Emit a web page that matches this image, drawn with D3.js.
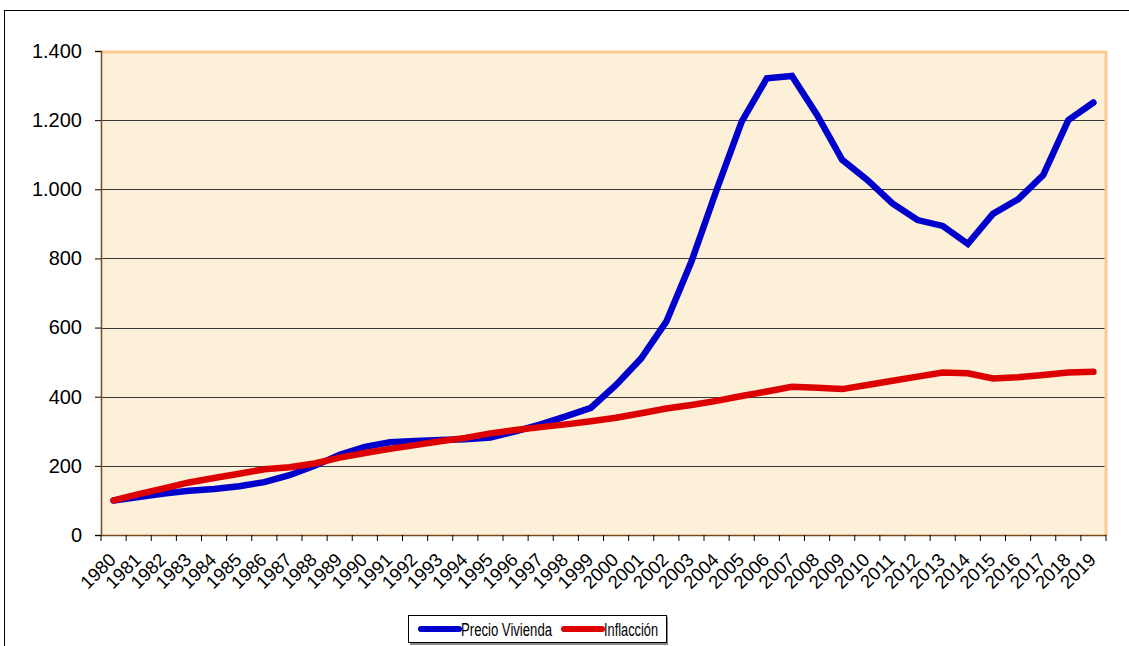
<!DOCTYPE html>
<html><head><meta charset="utf-8">
<script src="https://cdn.jsdelivr.net/npm/d3@7"></script>
<style>body{margin:0;background:#fff}svg{display:block}text{font-family:"Liberation Sans",Arial,sans-serif}</style>
</head><body>
<svg id="c" width="1129" height="646"></svg>
<script>
const years = d3.range(1980, 2020).map(String);
const precioVivienda = [100,110,120,128,133,141,153,173,200,232,255,268,272,275,277,282,300,320,343,368,434,511,617,791,998,1196,1321,1328,1215,1085,1027,959,911,894,842,929,971,1041,1200,1251];
const inflaccion = [100,118,135,152,165,177,190,196,207,224,237,249,260,271,281,294,304,312,320,329,339,352,366,376,388,402,415,429,426,422,434,446,458,470,468,453,456,463,470,472];
const yTicks = [0,200,400,600,800,1000,1200,1400];
const seriesNames = ["Precio Vivienda","Inflacción"];
const seriesColors = ["#0000CC","#DD0000"];

const svg = d3.select("#c");
const m = {l:101, t:51, r:1106, b:535};
const loc = d3.formatLocale({decimal:",", thousands:".", grouping:[3], currency:["","€"]});
const fmt = loc.format(",d");

svg.append("rect").attr("x",4.5).attr("y",10.5).attr("width",1140).attr("height",650)
  .attr("fill","#fff").attr("stroke","#000").attr("stroke-width",1);

const x = d3.scaleBand().domain(years).range([m.l, m.r]);
const y = d3.scaleLinear().domain([0,1400]).range([m.b, m.t]);

svg.append("rect").attr("x",m.l).attr("y",m.t).attr("width",m.r-m.l).attr("height",m.b-m.t)
  .attr("fill","#FCF0D9");

// gridlines
svg.append("g").selectAll("line").data(yTicks.filter(d=>d>0 && d<1400)).join("line")
  .attr("x1",m.l).attr("x2",m.r).attr("y1",d=>Math.round(y(d))+0.5).attr("y2",d=>Math.round(y(d))+0.5)
  .attr("stroke","#3a3a3a").attr("stroke-width",1);

// plot border top/right
svg.append("path").attr("d",`M${m.l},${m.t+1}H${m.r}V${m.b}`).attr("fill","none")
  .attr("stroke","#FFC890").attr("stroke-width",3);

// y axis
const yAxis = svg.append("g").attr("transform",`translate(${m.l},0)`)
  .call(d3.axisLeft(y).tickValues(yTicks).tickFormat(fmt).tickSize(6).tickPadding(13));
yAxis.select(".domain").attr("stroke","#7A4A1A").attr("stroke-width",1.5);
yAxis.selectAll(".tick line").attr("stroke","#000");
yAxis.selectAll("text").attr("font-size","20px").attr("fill","#000");

// x axis
const xAxis = svg.append("g").attr("transform",`translate(0,${m.b})`)
  .call(d3.axisBottom(x).tickSize(0).tickFormat(""));
xAxis.select(".domain").attr("stroke","#7A4A1A").attr("stroke-width",1.5);
svg.append("g").selectAll("line").data(years.concat(["end"])).join("line")
  .attr("x1",(d,i)=>m.l + i*x.step()).attr("x2",(d,i)=>m.l + i*x.step())
  .attr("y1",m.b).attr("y2",m.b+6).attr("stroke","#000");
svg.append("g").selectAll("text").data(years).join("text")
  .attr("transform",d=>`translate(${x(d)+x.bandwidth()/2+3.5},${m.b+26}) rotate(-45)`)
  .attr("text-anchor","end").attr("font-size","18.5px").attr("fill","#000")
  .text(d=>d);

// lines
const line = d3.line().x((d,i)=>x(years[i])+x.bandwidth()/2).y(d=>y(d));
[precioVivienda, inflaccion].forEach((s,k)=>{
  svg.append("path").datum(s).attr("d",line).attr("fill","none")
    .attr("stroke",seriesColors[k]).attr("stroke-width",6.5)
    .attr("stroke-linejoin","miter").attr("stroke-linecap","round");
});

// legend
const lg = svg.append("g");
lg.append("rect").attr("x",410).attr("y",617).attr("width",258).attr("height",28).attr("fill","#888");
lg.append("rect").attr("x",408.5).attr("y",615.5).attr("width",258).attr("height",27).attr("fill","#fff").attr("stroke","#000");
const items = [{x0:421, tx:461, w:91},{x0:564, tx:604, w:54}];
items.forEach((it,k)=>{
  lg.append("line").attr("x1",it.x0).attr("x2",it.x0+38).attr("y1",629).attr("y2",629)
    .attr("stroke",seriesColors[k]).attr("stroke-width",6).attr("stroke-linecap","round");
  lg.append("text").attr("x",it.tx).attr("y",636).attr("font-size","18px").attr("fill","#000")
    .attr("textLength",it.w).attr("lengthAdjust","spacingAndGlyphs")
    .text(seriesNames[k]);
});
</script>
</body></html>
